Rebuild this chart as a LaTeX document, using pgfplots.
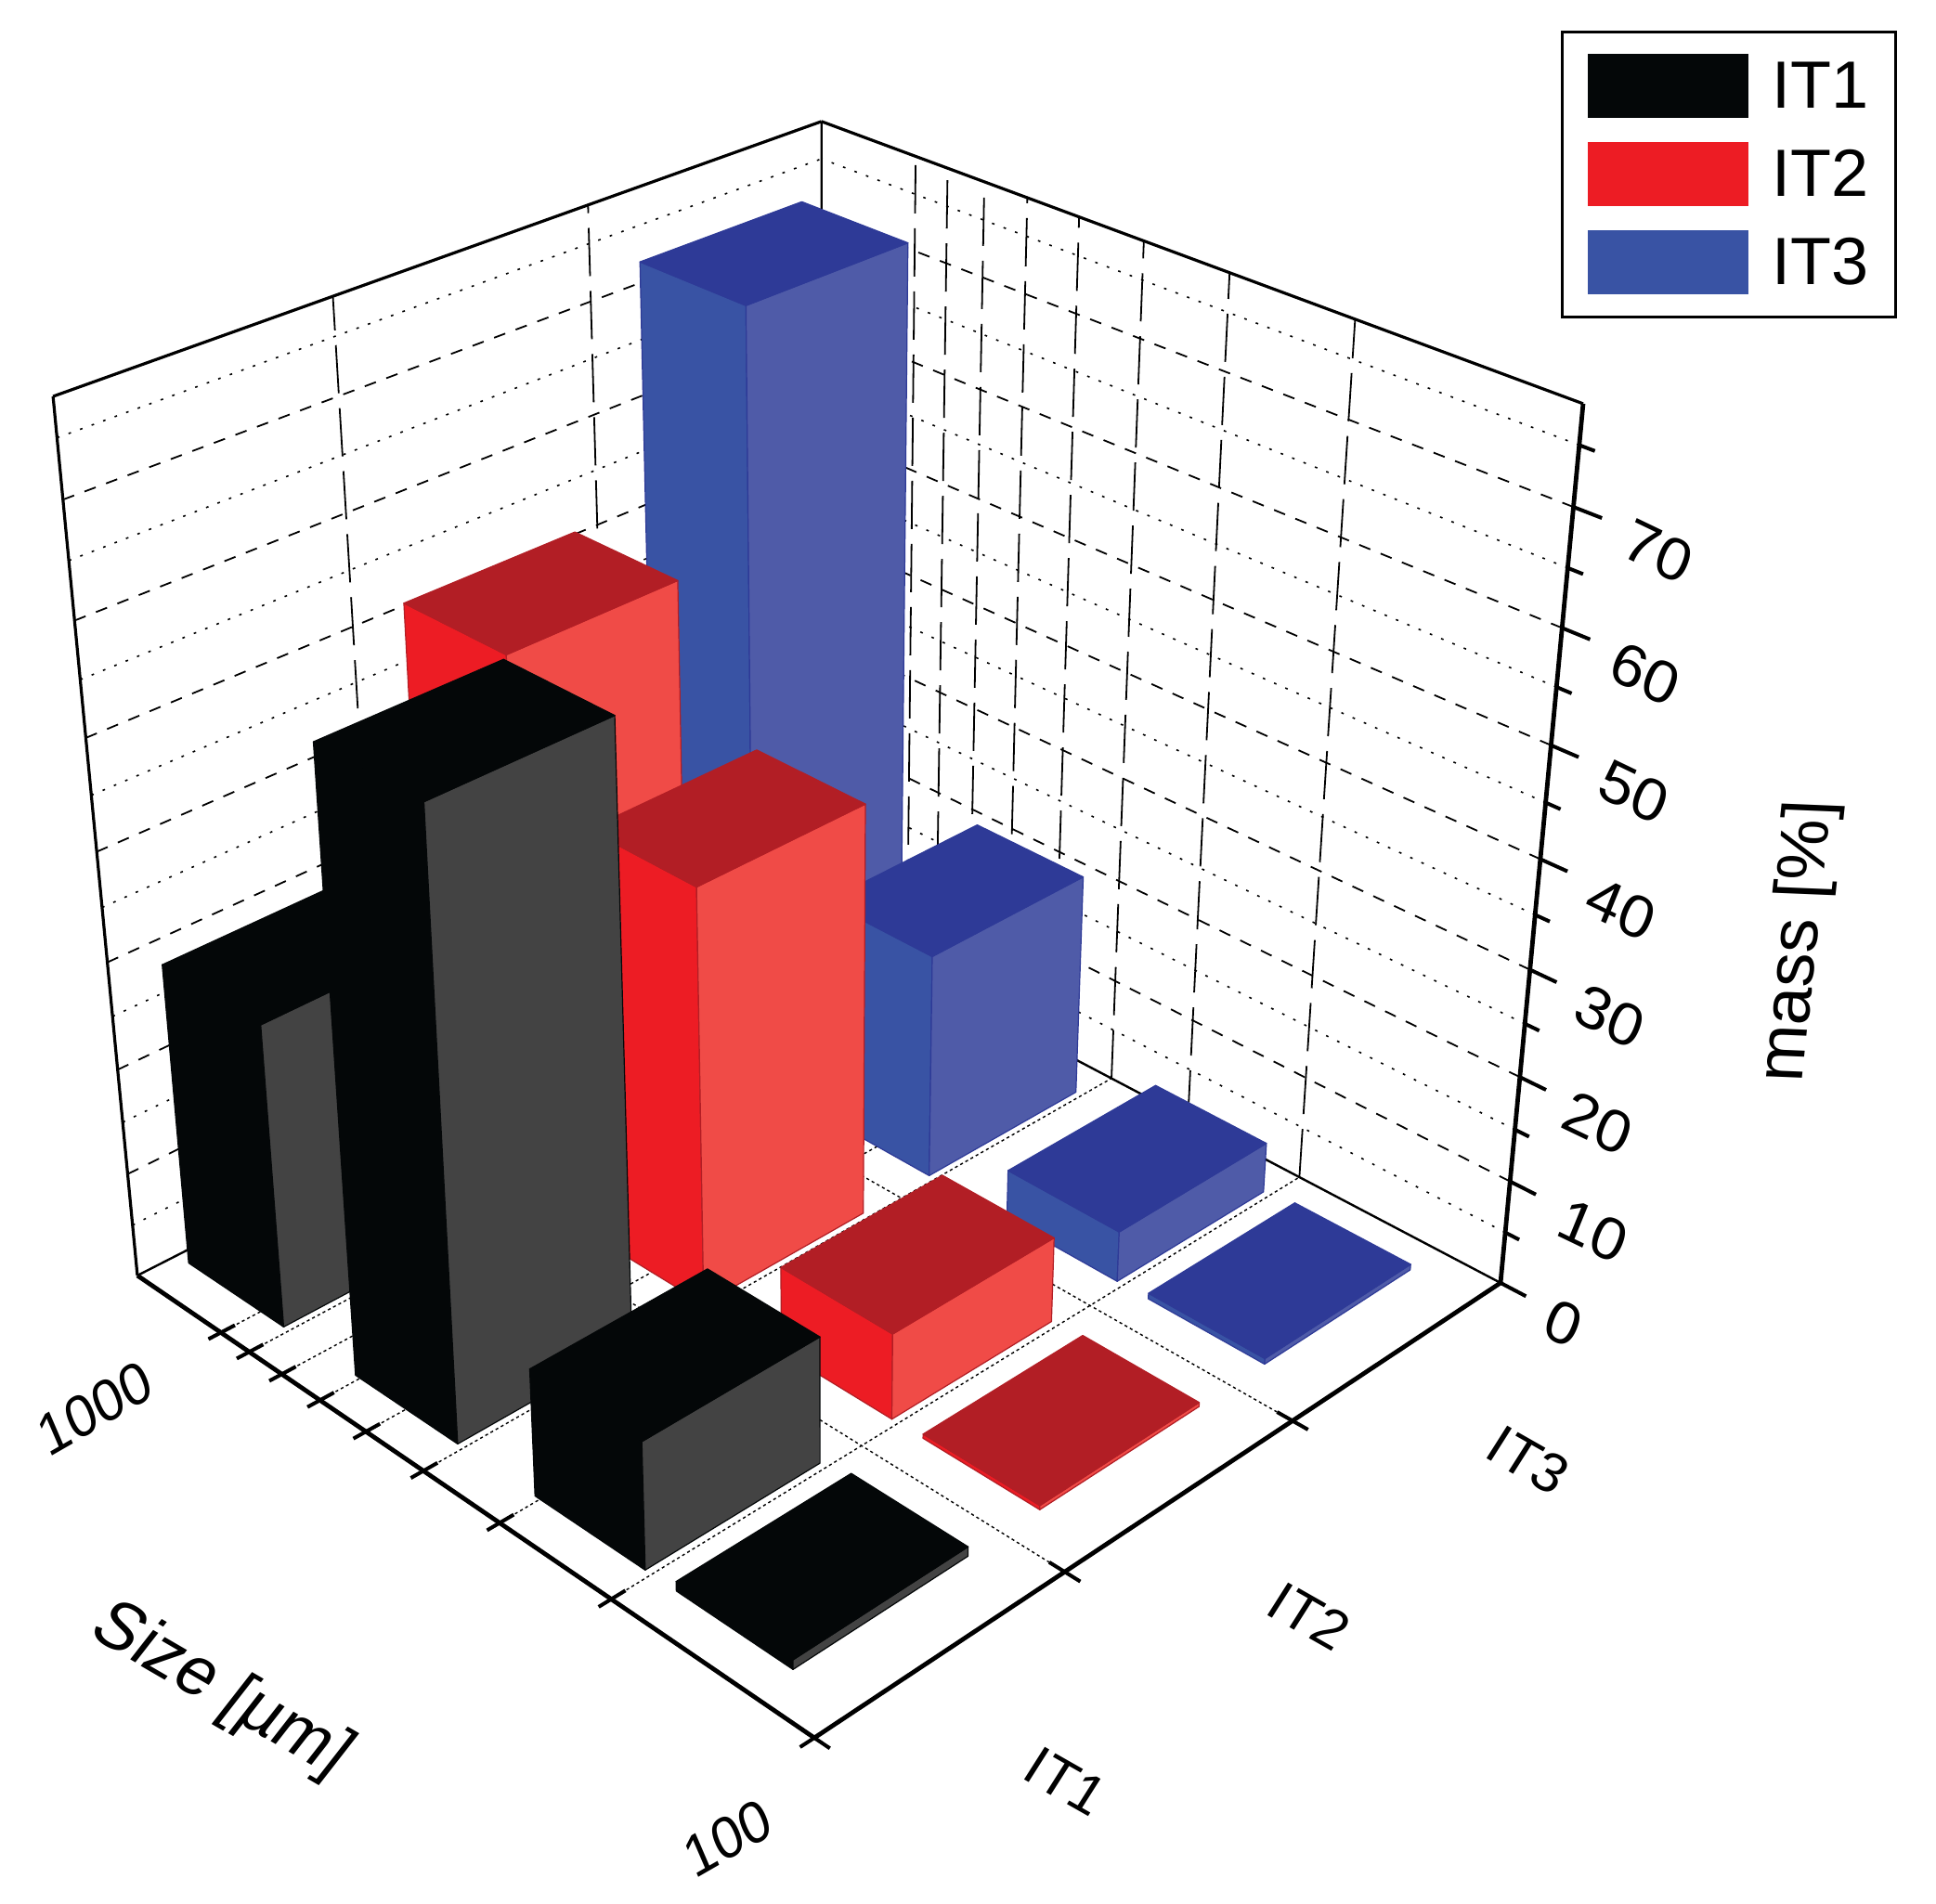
\documentclass[border=0pt]{standalone}
\usepackage{pgfplots}
\usepackage{pgfplotstable}
\usepackage{fontspec}
\setmainfont{Liberation Sans}
\pgfplotsset{compat=1.18}
\definecolor{IToneL}{HTML}{040708}\definecolor{IToneR}{HTML}{434343}\definecolor{IToneT}{HTML}{040708}
\definecolor{ITtwoL}{HTML}{ED1C24}\definecolor{ITtwoR}{HTML}{F04B47}\definecolor{ITtwoT}{HTML}{B21E25}
\definecolor{ITthreeL}{HTML}{3953A4}\definecolor{ITthreeR}{HTML}{4F5BA8}\definecolor{ITthreeT}{HTML}{2E3A97}
% mass [%] per size class and series
\pgfplotstableread{
size IT1 IT2 IT3
150  0.9 0.4 0.55
250  12.0 8.2 4.9
500  57.1 39.2 21.7
1000 28.7 51.2 72.7
}\massdata
% perspective projection of (u,v,w) on the picture
\newcommand\proj[5]{%
  \pgfmathsetmacro\D{1+.15022*(#1)+.14914*(#2)-.12545*(#3)}%
  \pgfmathsetmacro#4{(877-706.8*(#1)+980*(#2)-111.65*(#3))/\D}%
  \pgfmathsetmacro#5{(1872-291.6*(#1)-284*(#2)-1142.8*(#3))/\D}}
\newcommand\Useg[7]{% style, u1 v1 w1, u2 v2 w2
  \proj{#2}{#3}{#4}\xa\ya\proj{#5}{#6}{#7}\xb\yb
  \addplot[forget plot,#1] coordinates {(\xa,\ya)(\xb,\yb)};}
\newcommand\Quad[4]{% colours/edges; then points already in \xa..\xd
  \addplot[forget plot,fill=#1,draw=#2,line width=.3pt,line join=round] coordinates {(\xa,\ya)(\xb,\yb)(\xc,\yc)(\xd,\yd)} --cycle;}
\newcommand\DrawBar[5]{% row, column, vcentre, colour prefix, edge
  \pgfplotstablegetelem{#1}{size}\of\massdata\let\sz\pgfplotsretval
  \pgfplotstablegetelem{#1}{#2}\of\massdata\let\ms\pgfplotsretval
  \pgfmathsetmacro\uc{.902*log10(\sz/100)}%
  \pgfmathsetmacro\ua{\uc-.0785}\pgfmathsetmacro\ub{\uc+.0785}%
  \pgfmathsetmacro\va{#3-.115}\pgfmathsetmacro\vb{#3+.118}%
  \pgfmathsetmacro\wt{.01277*\ms}%
  \proj{\ub}{\va}{0}\xa\ya\proj{\ua}{\va}{0}\xb\yb\proj{\ua}{\va}{\wt}\xc\yc\proj{\ub}{\va}{\wt}\xd\yd
  \Quad{#4L}{#5}{}{}%
  \proj{\ua}{\va}{0}\xa\ya\proj{\ua}{\vb}{0}\xb\yb\proj{\ua}{\vb}{\wt}\xc\yc\proj{\ua}{\va}{\wt}\xd\yd
  \Quad{#4R}{#5}{}{}%
  \proj{\ua}{\va}{\wt}\xa\ya\proj{\ua}{\vb}{\wt}\xb\yb\proj{\ub}{\vb}{\wt}\xc\yc\proj{\ub}{\va}{\wt}\xd\yd
  \Quad{#4T}{#5}{}{}}
\newcommand\SizeGrid[1]{\pgfmathsetmacro\us{.902*log10(#1/100)}%
  \Useg{Vg}{\us}{1}{0}{\us}{1}{1}\Useg{Fl}{\us}{0}{0}{\us}{1}{0}%
  \Useg{Tk}{\us}{-.016}{0}{\us}{.018}{0}}
\newcommand\MassGrid[2]{\pgfmathsetmacro\wm{.01277*#1}%
  \Useg{#2}{1}{0}{\wm}{1}{1}{\wm}\Useg{#2}{0}{1}{\wm}{1}{1}{\wm}}
\newcommand\MassTick[2]{\pgfmathsetmacro\wm{.01277*#1}%
  \Useg{Tz}{0}{1}{\wm}{#2}{1}{\wm}}
\pgfplotsset{
  Vg/.style={black,line width=.45pt,dash pattern=on 13pt off 4pt},
  Mj/.style={black,line width=.45pt,dash pattern=on 3.2pt off 3pt},
  Mn/.style={black,line width=.4pt,dash pattern=on .7pt off 2.6pt},
  Fl/.style={black,line width=.35pt,dash pattern=on .8pt off .8pt},
  Tk/.style={black,line width=1pt},
  Tz/.style={black,line width=1pt},
}
\newcommand\lab{\fontsize{15}{18}\selectfont}
\begin{document}
\begin{tikzpicture}
\path[use as bounding box] (0pt,0pt) rectangle (521.25pt,512.75pt);
\begin{axis}[at={(0pt,0pt)},anchor=south west,scale only axis,width=521.25pt,height=512.75pt,
  xmin=0,xmax=2085,ymin=0,ymax=2051,y dir=reverse,hide axis,clip=false,
  legend cell align=left,
  legend style={at={(axis cs:1681,33)},anchor=north west,draw=black,line width=.75pt,
    inner xsep=6.75pt,inner ysep=6pt,row sep=6.5pt,column sep=0pt,
    font=\fontsize{18}{20}\selectfont,
    nodes={inner sep=0pt,anchor=base west},
  },
]
\addlegendimage{legend image code/.code={\fill[IToneL] (0pt,-2.25pt) rectangle (42.5pt,14.25pt);\path (49pt,0pt);}}
\addlegendentry{IT1\hspace*{.5pt}}
\addlegendimage{legend image code/.code={\fill[ITtwoL] (0pt,-2.25pt) rectangle (42.5pt,14.25pt);\path (49pt,0pt);}}
\addlegendentry{IT2\hspace*{.5pt}}
\addlegendimage{legend image code/.code={\fill[ITthreeL] (0pt,-2.25pt) rectangle (42.5pt,14.25pt);\path (49pt,0pt);}}
\addlegendentry{IT3\hspace*{.5pt}}
% grid on walls and floor
\MassGrid{75}{Mn}\MassGrid{65}{Mn}\MassGrid{55}{Mn}\MassGrid{45}{Mn}\MassGrid{35}{Mn}\MassGrid{25}{Mn}\MassGrid{15}{Mn}\MassGrid{5}{Mn}
\MassGrid{70}{Mj}\MassGrid{60}{Mj}\MassGrid{50}{Mj}\MassGrid{40}{Mj}\MassGrid{30}{Mj}\MassGrid{20}{Mj}\MassGrid{10}{Mj}
\SizeGrid{200}\SizeGrid{300}\SizeGrid{400}\SizeGrid{500}\SizeGrid{600}\SizeGrid{700}\SizeGrid{800}\SizeGrid{900}
\Useg{Vg}{1}{.3333}{0}{1}{.3333}{1}\Useg{Vg}{1}{.6667}{0}{1}{.6667}{1}
\Useg{Fl}{0}{.3333}{0}{1}{.3333}{0}\Useg{Fl}{0}{.6667}{0}{1}{.6667}{0}
% box edges
\Useg{black,line width=.6pt}{1}{1}{0}{1}{1}{1}
\Useg{black,line width=.6pt}{1}{0}{0}{1}{1}{0}
\Useg{black,line width=.6pt}{0}{1}{0}{1}{1}{0}
\Useg{black,line width=.8pt}{1}{0}{1}{1}{1}{1}
\Useg{black,line width=.8pt}{0}{1}{1}{1}{1}{1}
\Useg{black,line width=.8pt}{1}{0}{0}{1}{0}{1}
\Useg{black,line width=1.2pt}{0}{1}{0}{0}{1}{1}
\Useg{black,line width=1.2pt}{0}{0}{0}{1}{0}{0}
\Useg{black,line width=1.2pt}{0}{0}{0}{0}{1}{0}
% ticks
\Useg{Tk}{-.02}{.3333}{0}{.02}{.3333}{0}\Useg{Tk}{-.02}{.6667}{0}{.02}{.6667}{0}
\Useg{Tk}{-.02}{0}{0}{0}{0}{0}\Useg{Tk}{0}{-.018}{0}{0}{0}{0}
\MassTick{0}{-.033}\MassTick{10}{-.033}\MassTick{20}{-.033}\MassTick{30}{-.033}\MassTick{40}{-.033}\MassTick{50}{-.033}\MassTick{60}{-.033}\MassTick{70}{-.033}
\MassTick{5}{-.018}\MassTick{15}{-.018}\MassTick{25}{-.018}\MassTick{35}{-.018}\MassTick{45}{-.018}\MassTick{55}{-.018}\MassTick{65}{-.018}\MassTick{75}{-.018}
% bars, far to near
\DrawBar{3}{IT3}{.8333}{ITthree}{ITthreeT}
\DrawBar{3}{IT2}{.5}{ITtwo}{ITtwoT}
\DrawBar{3}{IT1}{.1667}{ITone}{IToneT}
\DrawBar{2}{IT3}{.8333}{ITthree}{ITthreeT}
\DrawBar{2}{IT2}{.5}{ITtwo}{ITtwoT}
\DrawBar{2}{IT1}{.1667}{ITone}{IToneT}
\DrawBar{1}{IT3}{.8333}{ITthree}{ITthreeT}
\DrawBar{1}{IT2}{.5}{ITtwo}{ITtwoT}
\DrawBar{1}{IT1}{.1667}{ITone}{IToneT}
\DrawBar{0}{IT3}{.8333}{ITthree}{ITthreeT}
\DrawBar{0}{IT2}{.5}{ITtwo}{ITtwoT}
\DrawBar{0}{IT1}{.1667}{ITone}{IToneT}
% labels
\tikzset{zl/.style={inner sep=0pt,anchor=center,font=\lab,cm={1.02,-.49,.4,.98,(0pt,0pt)}},
  il/.style={inner sep=0pt,anchor=center,font=\lab,cm={.88,-.5,.54,.85,(0pt,0pt)}},
  sl/.style={inner sep=0pt,anchor=center,font=\lab,cm={.87,.5,-.41,.95,(0pt,0pt)}}}
\node[zl] at (axis cs:1684,1425) {0};
\node[zl] at (axis cs:1716,1326) {10};
\node[zl] at (axis cs:1721,1210) {20};
\node[zl] at (axis cs:1734,1095) {30};
\node[zl] at (axis cs:1746,979) {40};
\node[zl] at (axis cs:1760,853) {50};
\node[zl] at (axis cs:1772,726) {60};
\node[zl] at (axis cs:1786,594) {70};
\node[il] at (axis cs:1148,1919) {IT1};
\node[il] at (axis cs:1410,1741) {IT2};
\node[il] at (axis cs:1646,1573) {IT3};
\node[sl] at (axis cs:102,1517) {1000};
\node[sl] at (axis cs:784,1980) {100};
\node[inner sep=0pt,anchor=center,font=\lab,cm={1.05,-.61,.78,1.0,(0pt,0pt)}] at (axis cs:238,1822) {Size [µm]};
\node[inner sep=0pt,anchor=center,font=\lab,cm={.13,1.233,-1.217,.05,(0pt,0pt)}] at (axis cs:1938,1014) {mass [\%]};
\end{axis}
\end{tikzpicture}
\end{document}
